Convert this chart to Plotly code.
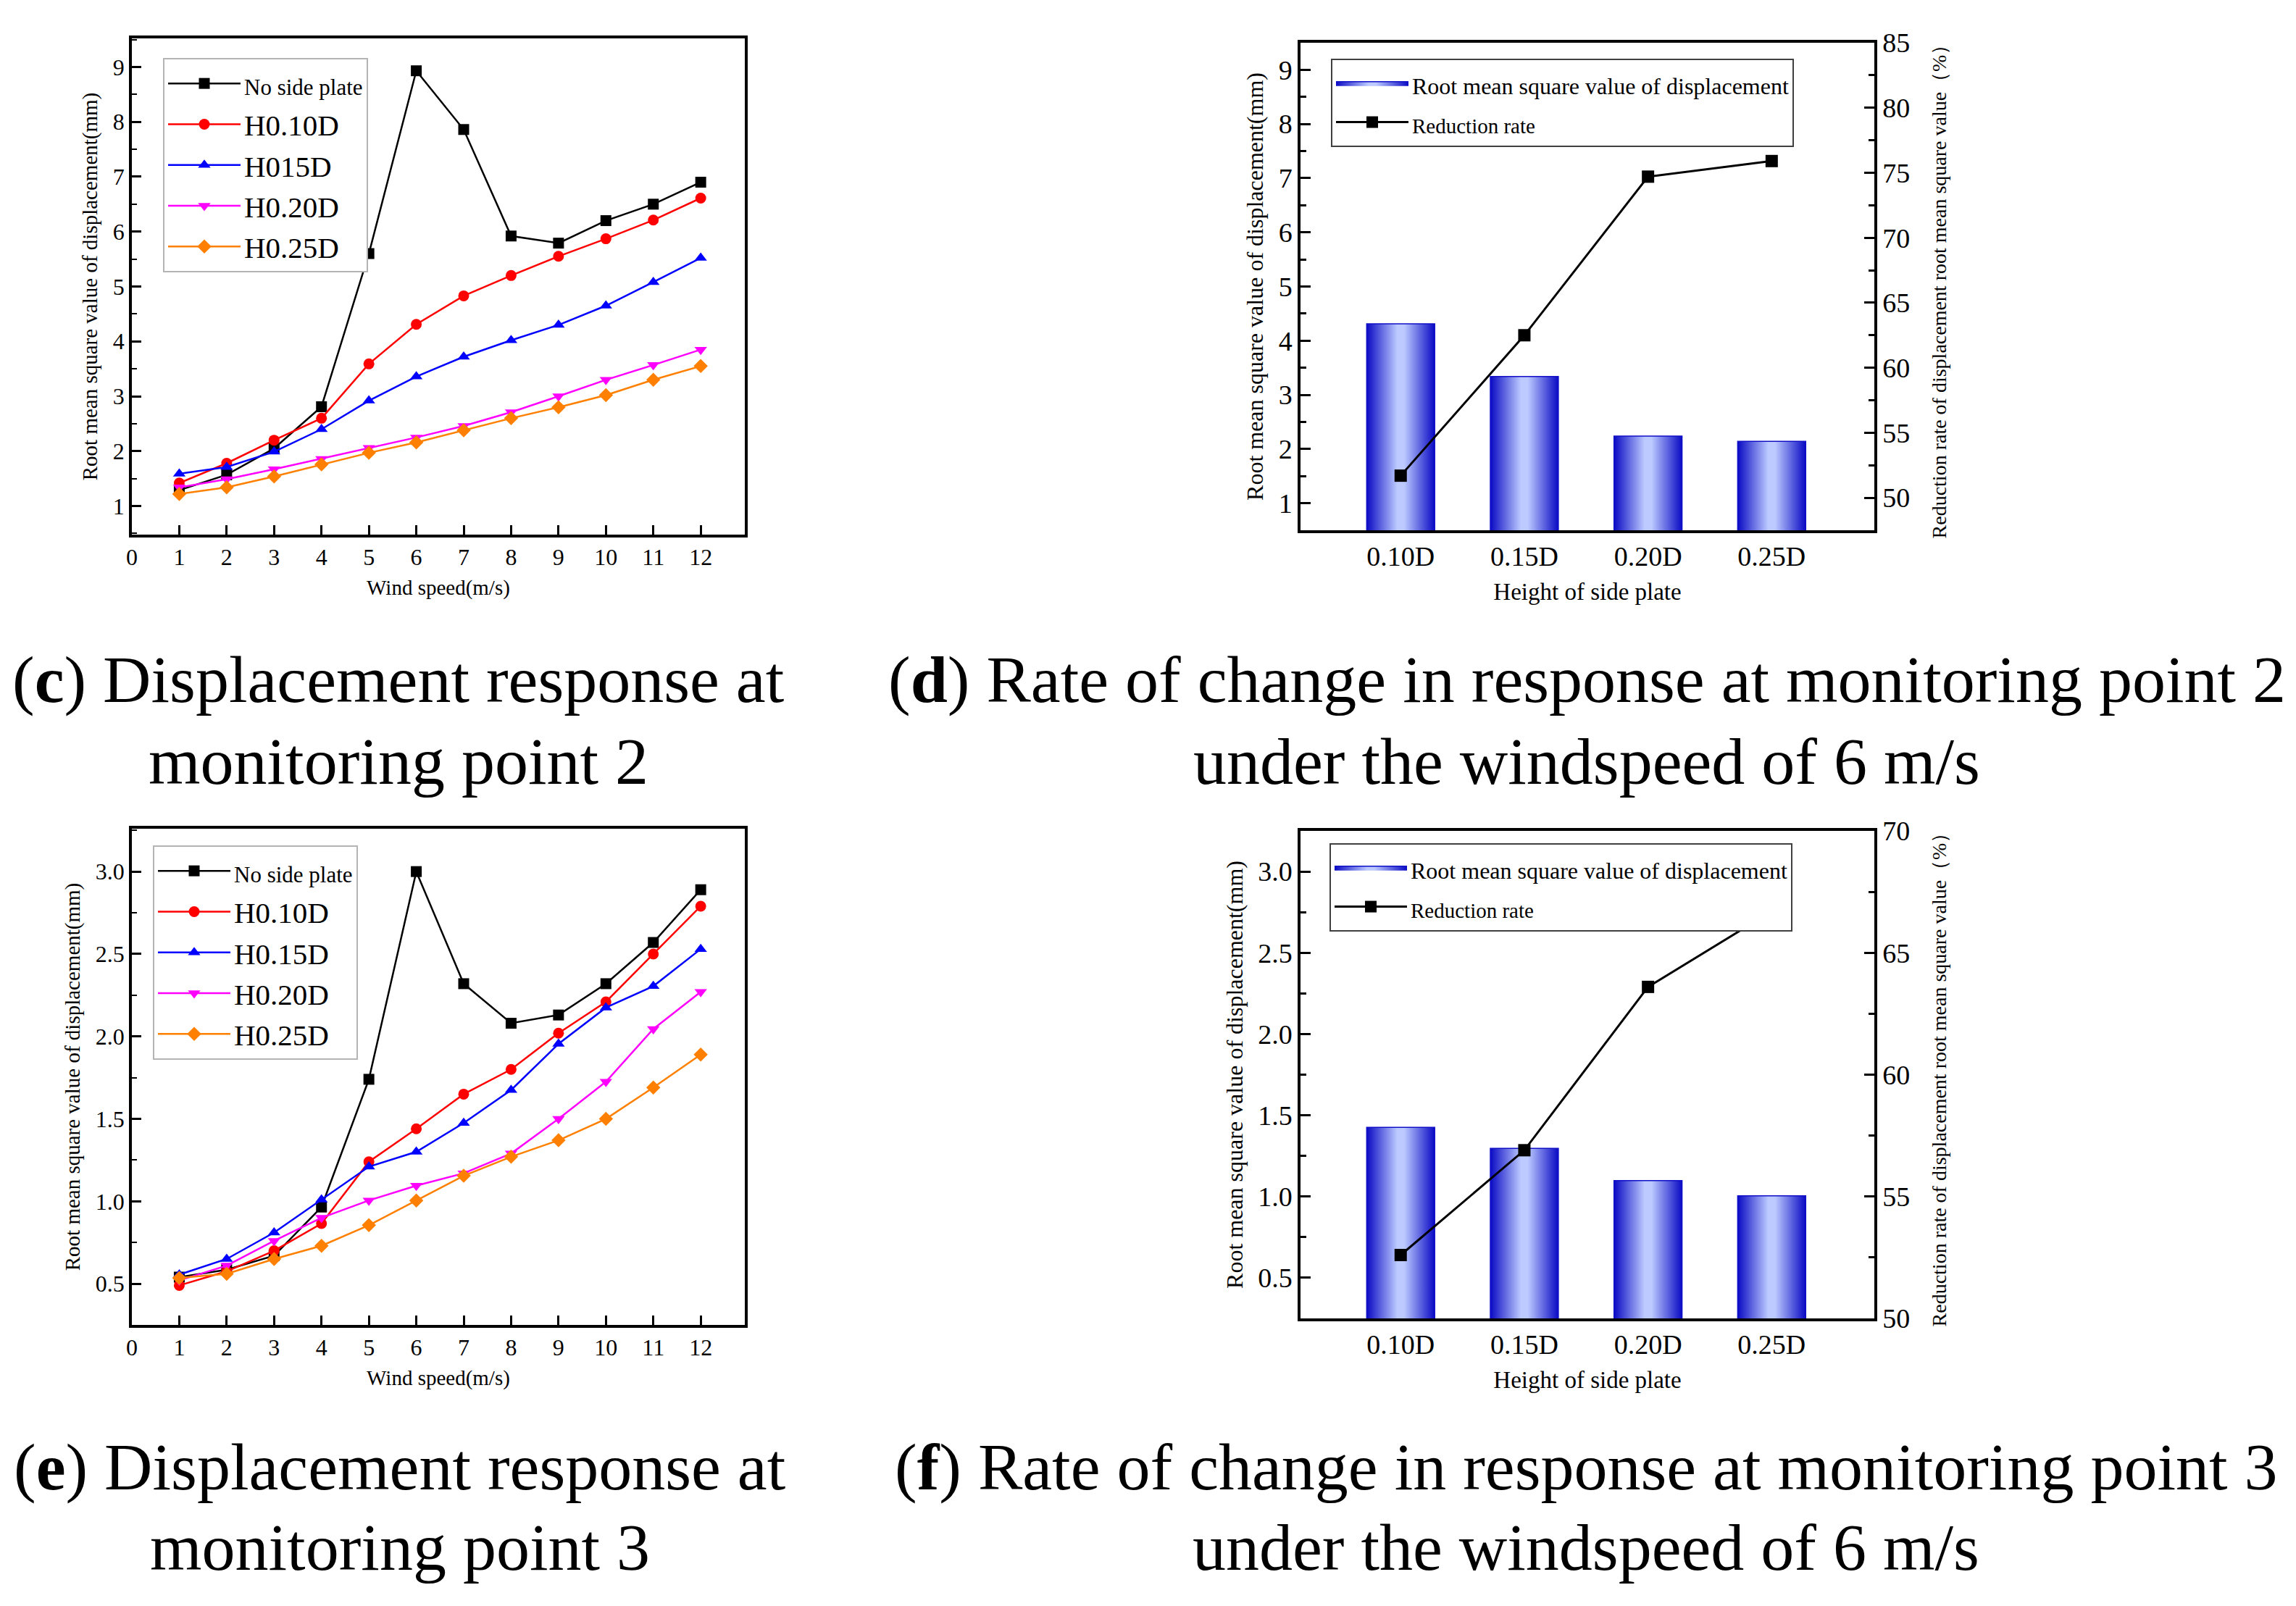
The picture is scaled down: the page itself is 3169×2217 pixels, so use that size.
import plotly.graph_objects as go

# ---------------- data ----------------
wind_speed = [1, 2, 3, 4, 5, 6, 7, 8, 9, 10, 11, 12]
series_names_c = ["No side plate", "H0.10D", "H015D", "H0.20D", "H0.25D"]
series_names_e = ["No side plate", "H0.10D", "H0.15D", "H0.20D", "H0.25D"]

c_none = [1.29, 1.57, 2.05, 2.81, 5.60, 8.93, 7.86, 5.92, 5.79, 6.20, 6.50, 6.90]
c_h010 = [1.42, 1.78, 2.20, 2.60, 3.59, 4.31, 4.83, 5.20, 5.55, 5.87, 6.21, 6.61]
c_h015 = [1.59, 1.71, 1.99, 2.40, 2.92, 3.36, 3.72, 4.02, 4.30, 4.65, 5.08, 5.52]
c_h020 = [1.34, 1.49, 1.67, 1.86, 2.06, 2.25, 2.46, 2.71, 3.00, 3.30, 3.57, 3.85]
c_h025 = [1.22, 1.34, 1.54, 1.76, 1.97, 2.16, 2.38, 2.60, 2.80, 3.02, 3.30, 3.55]

e_none = [0.54, 0.585, 0.67, 0.965, 1.74, 3.00, 2.32, 2.08, 2.13, 2.32, 2.57, 2.89]
e_h010 = [0.49, 0.575, 0.70, 0.865, 1.24, 1.44, 1.65, 1.80, 2.02, 2.21, 2.50, 2.79]
e_h015 = [0.555, 0.65, 0.81, 1.01, 1.21, 1.30, 1.475, 1.675, 1.955, 2.175, 2.305, 2.53]
e_h020 = [0.52, 0.61, 0.76, 0.90, 1.005, 1.095, 1.17, 1.29, 1.50, 1.725, 2.045, 2.27]
e_h025 = [0.535, 0.56, 0.65, 0.73, 0.855, 1.005, 1.155, 1.27, 1.37, 1.50, 1.69, 1.89]

plate_heights = ["0.10D", "0.15D", "0.20D", "0.25D"]
d_rms = [4.31, 3.34, 2.24, 2.14]
d_rate = [51.7, 62.5, 74.7, 75.9]
f_rms = [1.426, 1.296, 1.098, 1.005]
f_rate = [52.6, 56.9, 63.6, 66.7]

x_tick_labels = [str(v) for v in range(0, 13)]

# ---------------- page geometry (browser body keeps an 8 px margin) ----------------
PAGE_W, PAGE_H, BODY = 3169, 2217, 8
FIG_W, FIG_H = PAGE_W - 2 * BODY, PAGE_H - 2 * BODY

def px_x(p):
    return (p - BODY) / FIG_W

def px_y(p):
    return 1 - (p - BODY) / FIG_H

# ---------------- styles ----------------
FONT = "Liberation Serif"
line_colors = ["#000000", "#ff0000", "#0000ff", "#ff00ff", "#ff8000"]
symbols = ["square", "circle", "triangle-up", "triangle-down", "diamond"]
bar_scale = [[0, "#0a0ac4"], [0.45, "#bccaff"], [0.55, "#bccaff"], [1, "#0a0ac4"]]
bar_half = 0.275

fig = go.Figure()

def line_panel(xa, ya, legend, names, data):
    for k, (nm, vals) in enumerate(zip(names, data)):
        label = nm
        if nm == "No side plate":
            label = "<span style='font-size:31px'>No side plate</span>"
        fig.add_trace(go.Scatter(
            x=wind_speed, y=vals, xaxis=xa, yaxis=ya, name=label, legend=legend,
            mode="lines+markers",
            line=dict(color=line_colors[k], width=2.5),
            marker=dict(symbol=symbols[k], size=15, color=line_colors[k]),
        ))

line_panel("x", "y", "legend", series_names_c, [c_none, c_h010, c_h015, c_h020, c_h025])
line_panel("x3", "y4", "legend3", series_names_e, [e_none, e_h010, e_h015, e_h020, e_h025])

def bar_panel(xa, ya, ya2, legend, rms, rate):
    for i, v in enumerate(rms):
        fig.add_trace(go.Scatter(
            x=[i - bar_half, i + bar_half, i + bar_half, i - bar_half, i - bar_half],
            y=[0, 0, v, v, 0], xaxis=xa, yaxis=ya, mode="lines", fill="toself",
            fillgradient=dict(type="horizontal", colorscale=bar_scale),
            line=dict(color="#1010c8", width=1.5),
            name="<span style='font-size:32px'>Root mean square value of displacement</span>",
            legend=legend, legendgroup=legend + "bars", showlegend=(i == 0), hoverinfo="skip",
        ))
    fig.add_trace(go.Scatter(
        x=list(range(len(rate))), y=rate, xaxis=xa, yaxis=ya2,
        mode="lines+markers", line=dict(color="black", width=3),
        marker=dict(symbol="square", size=17, color="black"),
        name="<span style='font-size:29px'>Reduction rate</span>", legend=legend,
    ))

bar_panel("x2", "y2", "y3", "legend2", d_rms, d_rate)
bar_panel("x4", "y5", "y6", "legend4", f_rms, f_rate)

# ---------------- axes ----------------
LW = 3.5
def base_axis(**kw):
    d = dict(showline=True, linecolor="black", linewidth=LW, showgrid=False, zeroline=False,
             ticks="inside", tickcolor="black", tickwidth=2.5, ticklen=13,
             tickfont=dict(family=FONT, size=32, color="black"))
    d.update(kw)
    return d

dom_c_x = [px_x(182), px_x(1028)]
dom_d_x = [px_x(1795), px_x(2587)]
dom_c_y = [px_y(738), px_y(53)]
dom_d_y = [px_y(732), px_y(59)]
dom_e_y = [px_y(1829), px_y(1144)]
dom_f_y = [px_y(1820), px_y(1147)]

wind_title = dict(text="Wind speed(m/s)", font=dict(family=FONT, size=29, color="black"), standoff=16)
rms_title_small = dict(text="Root mean square value of displacement(mm)",
                       font=dict(family=FONT, size=29, color="black"), standoff=14)

fig.update_layout(
    xaxis=base_axis(domain=dom_c_x, anchor="y", range=[0, 12.93], tickvals=list(range(13)),
                    ticktext=x_tick_labels, mirror=True, title=wind_title),
    yaxis=base_axis(domain=dom_c_y, anchor="x", range=[0.48, 9.52], tick0=0, dtick=1, mirror=True,
                    minor=dict(ticks="inside", ticklen=7, tickwidth=2, tickcolor="black", tick0=0, dtick=0.5),
                    title=rms_title_small),
    xaxis3=base_axis(domain=dom_c_x, anchor="y4", range=[0, 12.93], tickvals=list(range(13)),
                     ticktext=x_tick_labels, mirror=True, title=wind_title),
    yaxis4=base_axis(domain=dom_e_y, anchor="x3", range=[0.25, 3.26], tick0=0, dtick=0.5,
                     tickformat=".1f", mirror=True,
                     minor=dict(ticks="inside", ticklen=7, tickwidth=2, tickcolor="black", tick0=0, dtick=0.25),
                     title=rms_title_small),
)

cat_title = dict(text="Height of side plate", font=dict(family=FONT, size=33, color="black"), standoff=18)
rms_title = dict(text="Root mean square value of displacement(mm)",
                 font=dict(family=FONT, size=32, color="black"), standoff=12)
rate_title = dict(text="Reduction rate of displacement root mean square value（%）",
                  font=dict(family=FONT, size=28, color="black"), standoff=32)
big_tick = dict(family=FONT, size=38, color="black")

fig.update_layout(
    xaxis2=base_axis(domain=dom_d_x, anchor="y2", range=[-0.81, 3.83], tickvals=[0, 1, 2, 3],
                     ticktext=plate_heights, ticks="", mirror=True, tickfont=big_tick, title=cat_title),
    yaxis2=base_axis(domain=dom_d_y, anchor="x2", range=[0.5, 9.5], tick0=0, dtick=1,
                     tickfont=big_tick, ticklen=14,
                     minor=dict(ticks="inside", ticklen=8, tickwidth=2.5, tickcolor="black", tick0=0, dtick=0.5),
                     title=rms_title),
    yaxis3=base_axis(overlaying="y2", side="right", anchor="x2", range=[47.5, 85], tick0=0, dtick=5,
                     tickfont=big_tick, ticklen=14,
                     minor=dict(ticks="inside", ticklen=8, tickwidth=2.5, tickcolor="black", tick0=0, dtick=2.5),
                     title=rate_title),
    xaxis4=base_axis(domain=dom_d_x, anchor="y5", range=[-0.81, 3.83], tickvals=[0, 1, 2, 3],
                     ticktext=plate_heights, ticks="", mirror=True, tickfont=big_tick, title=cat_title),
    yaxis5=base_axis(domain=dom_f_y, anchor="x4", range=[0.25, 3.25], tick0=0, dtick=0.5,
                     tickformat=".1f", tickfont=big_tick, ticklen=14,
                     minor=dict(ticks="inside", ticklen=8, tickwidth=2.5, tickcolor="black", tick0=0, dtick=0.25),
                     title=rms_title),
    yaxis6=base_axis(overlaying="y5", side="right", anchor="x4", range=[50, 70], tick0=0, dtick=5,
                     tickfont=big_tick, ticklen=14,
                     minor=dict(ticks="inside", ticklen=8, tickwidth=2.5, tickcolor="black", tick0=0, dtick=2.5),
                     title=rate_title),
)

# ---------------- legends ----------------
def leg(xp, yp, size, border, iw):
    return dict(x=px_x(xp), y=px_y(yp), xanchor="left", yanchor="top", bgcolor="white",
                bordercolor=border, borderwidth=2, tracegroupgap=0,
                font=dict(family=FONT, size=size, color="black"), itemwidth=iw)

fig.update_layout(
    legend=leg(225, 80, 41, "#b4b4b4", 100),
    legend3=leg(211, 1167, 41, "#b4b4b4", 100),
    legend2=leg(1837, 81, 39, "#404040", 100),
    legend4=leg(1835, 1164, 39, "#404040", 100),
)

# ---------------- captions ----------------
CAP = 92
captions = [
    ("(<b>c</b>) Displacement response at", 550, 938),
    ("monitoring point 2", 550, 1051),
    ("(<b>d</b>) Rate of change in response at monitoring point 2", 2190, 938),
    ("under the windspeed of 6 m/s", 2190, 1051),
    ("(<b>e</b>) Displacement response at", 552, 2025),
    ("monitoring point 3", 552, 2136),
    ("(<b>f</b>) Rate of change in response at monitoring point 3", 2189, 2025),
    ("under the windspeed of 6 m/s", 2189, 2136),
]
for txt, xpx, ypx in captions:
    fig.add_annotation(text=txt, x=px_x(xpx), y=px_y(ypx), xref="paper", yref="paper",
                       xanchor="center", yanchor="middle", showarrow=False,
                       font=dict(family=FONT, size=CAP, color="black"))

fig.update_layout(width=FIG_W, height=FIG_H,
                  margin=dict(l=0, r=0, t=0, b=0, autoexpand=False),
                  paper_bgcolor="white", plot_bgcolor="white",
                  font=dict(family=FONT, color="black"))

fig.write_html("out.html")
